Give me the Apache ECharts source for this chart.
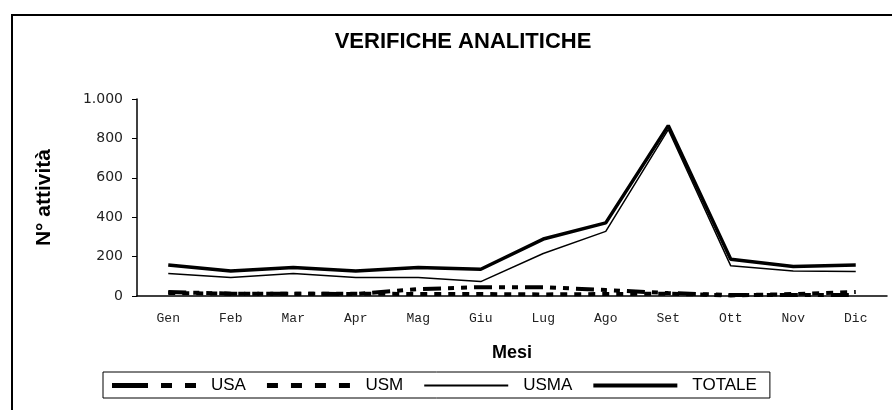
<!DOCTYPE html>
<html>
<head>
<meta charset="utf-8">
<script src="https://cdn.jsdelivr.net/npm/echarts@6/dist/echarts.min.js"></script>
<style>
  html, body { margin: 0; padding: 0; background: #fff; }
  #chart { width: 892px; height: 410px; }
</style>
</head>
<body>
<div id="chart"></div>
<script>
// dati
var mesi = ['Gen', 'Feb', 'Mar', 'Apr', 'Mag', 'Giu', 'Lug', 'Ago', 'Set', 'Ott', 'Nov', 'Dic'];
var usa = [20, 12, 12, 10, 35, 45, 45, 30, 15, 5, 5, 5];
var usm = [15, 12, 12, 12, 10, 10, 8, 10, 12, 3, 10, 20];
var usma = [114, 94, 114, 94, 94, 73, 216, 328, 845, 153, 127, 124];
var totale = [157, 127, 145, 127, 145, 136, 289, 371, 865, 187, 150, 157];
var yTicks = [0, 200, 400, 600, 800, 1000];

// icone della legenda disegnate come tratti (stile Excel)
var iconUSA = 'path://M0,0h36v5h-36z M49,0h11v5h-11z M73,0h11v5h-11z';
var iconUSM = 'path://M0,0h11v5h-11z M24,0h11v5h-11z M48,0h11v5h-11z M72,0h11v5h-11z';
var iconUSMA = 'path://M0,0h84v2h-84z';
var iconTOT = 'path://M0,0h84v4h-84z';

var chart = echarts.init(document.getElementById('chart'));

var option = {
  animation: false,
  title: {
    text: 'VERIFICHE ANALITICHE',
    left: 458,
    top: 26,
    textAlign: 'center',
    textStyle: { fontFamily: 'Liberation Sans', fontSize: 22, fontWeight: 'bold', color: '#000' }
  },
  graphic: [{
    type: 'rect',
    shape: { x: 12, y: 15, width: 900, height: 420 },
    style: { fill: 'none', stroke: '#000', lineWidth: 2 },
    z: -1
  }],
  legend: {
    left: 103,
    top: 372,
    padding: [5, 13, 4, 9],
    itemGap: 21,
    itemWidth: 84,
    itemHeight: 5,
    borderColor: '#000',
    borderWidth: 1,
    textStyle: { fontFamily: 'Liberation Sans', fontSize: 17, color: '#000', padding: [0, 0, 0, 10] },
    data: [
      { name: 'USA', icon: iconUSA },
      { name: 'USM', icon: iconUSM },
      { name: 'USMA', icon: iconUSMA },
      { name: 'TOTALE', icon: iconTOT }
    ]
  },
  grid: { left: 137, right: 5, top: 99, bottom: 114 },
  xAxis: {
    type: 'category',
    data: mesi,
    name: 'Mesi',
    nameLocation: 'middle',
    nameGap: 48,
    nameTextStyle: { fontFamily: 'Liberation Sans', fontSize: 18, fontWeight: 'bold', color: '#000' },
    axisLine: { lineStyle: { color: '#000', width: 1.5 } },
    axisTick: { length: 5, lineStyle: { color: '#000' } },
    axisLabel: { margin: 16, fontFamily: 'Liberation Mono', fontSize: 13, color: '#222' }
  },
  yAxis: {
    type: 'value',
    min: 0,
    max: 1000,
    interval: 200,
    name: 'N° attività',
    nameLocation: 'middle',
    nameGap: 82,
    nameTextStyle: { fontFamily: 'Liberation Sans', fontSize: 21, fontWeight: 'bold', color: '#000' },
    splitLine: { show: false },
    axisLine: { show: true, lineStyle: { color: '#000', width: 1.5 } },
    axisTick: { show: true, length: 5, lineStyle: { color: '#000' } },
    axisLabel: {
      margin: 14,
      fontFamily: 'DejaVu Sans',
      fontSize: 14,
      color: '#222',
      formatter: function (v) {
        return yTicks.indexOf(v) >= 0 ? (v === 1000 ? '1.000' : String(v)) : '';
      }
    }
  },
  series: [
    {
      name: 'USA', type: 'line', data: usa, symbol: 'none',
      lineStyle: { color: '#000', width: 4, type: [18, 7, 6, 7, 6, 7] },
      itemStyle: { color: '#000' }
    },
    {
      name: 'USM', type: 'line', data: usm, symbol: 'none',
      lineStyle: { color: '#000', width: 4, type: [7, 7] },
      itemStyle: { color: '#000' }
    },
    {
      name: 'USMA', type: 'line', data: usma, symbol: 'none',
      lineStyle: { color: '#000', width: 1.5 },
      itemStyle: { color: '#000' }
    },
    {
      name: 'TOTALE', type: 'line', data: totale, symbol: 'none',
      lineStyle: { color: '#000', width: 3.5 },
      itemStyle: { color: '#000' }
    }
  ]
};

chart.setOption(option);
</script>
</body>
</html>
